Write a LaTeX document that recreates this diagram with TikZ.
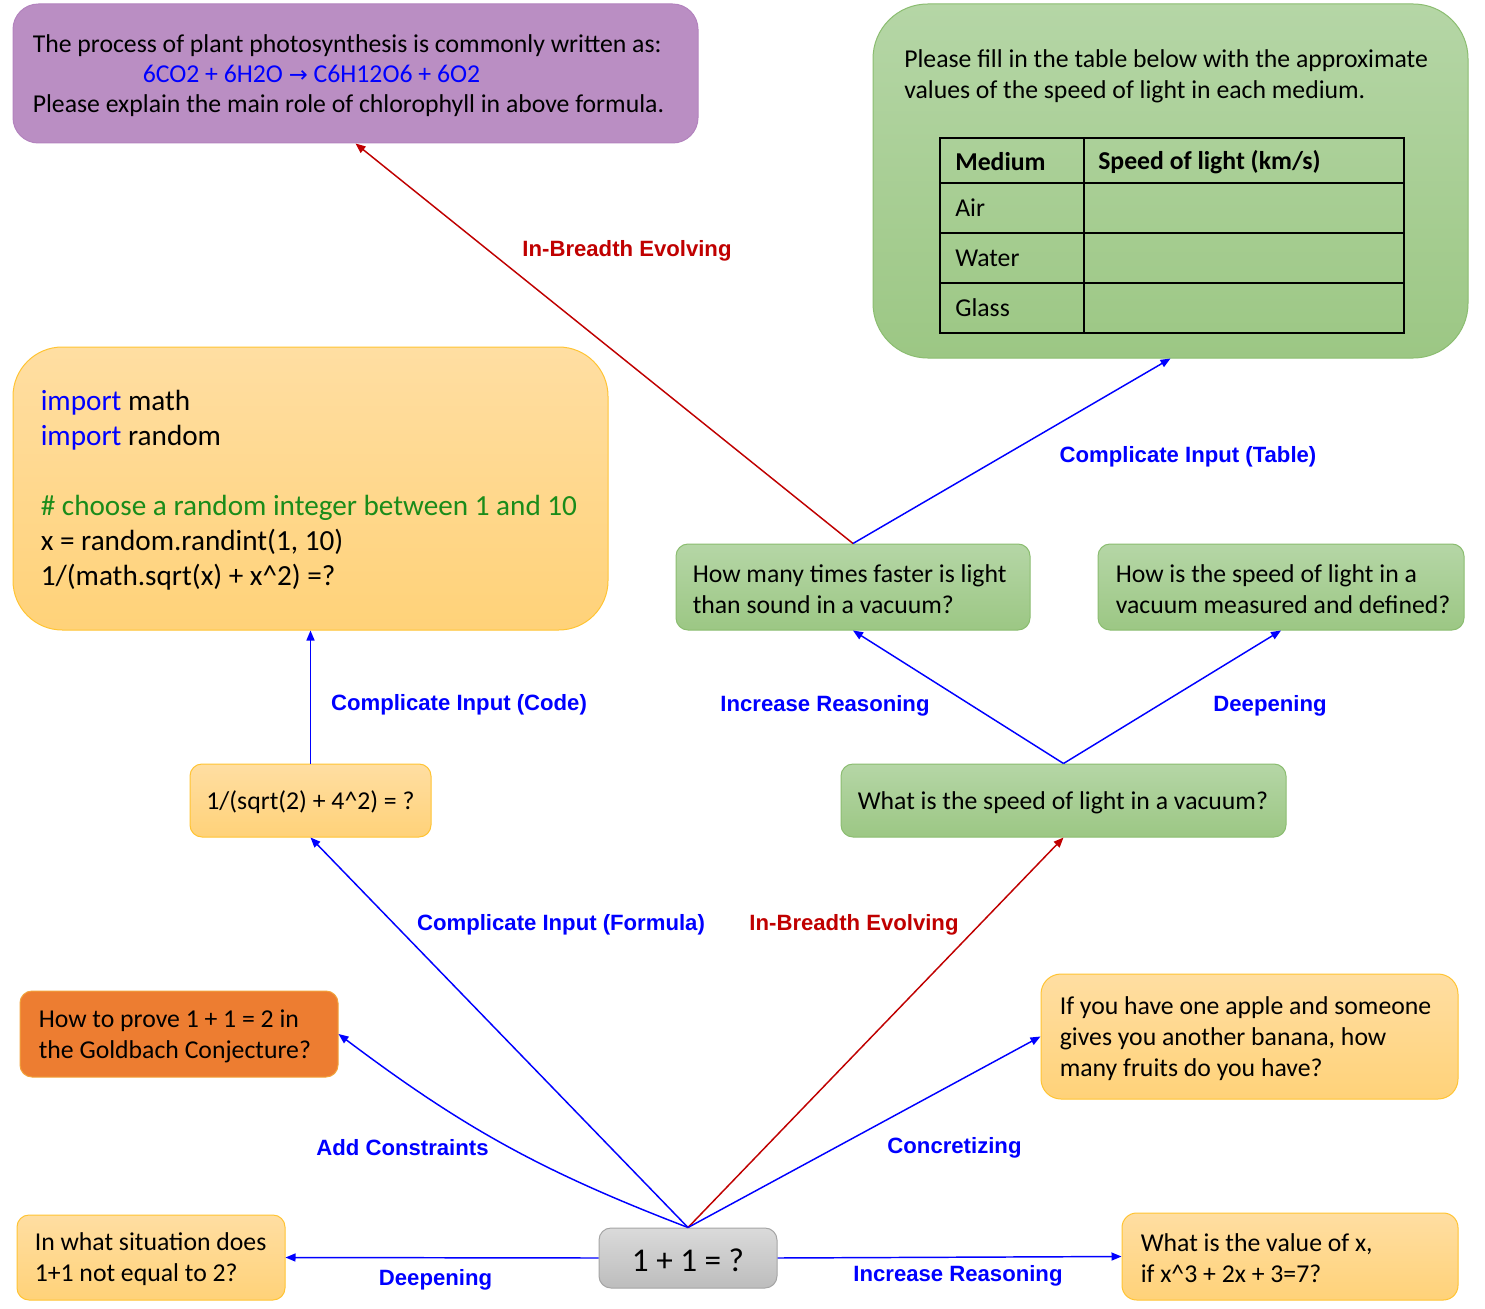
\documentclass[tikz,border=0pt]{standalone}
\usepackage{fontspec}
\setmainfont{Carlito}
\newfontfamily\labfont{Liberation Sans}
\newfontfamily\arrowfont{DejaVu Sans}
\usetikzlibrary{arrows.meta,fit}
\definecolor{purpF}{HTML}{BA8EC3}
\definecolor{purpD}{HTML}{B383BE}
\definecolor{grnT}{HTML}{B5D6A6}
\definecolor{grnB}{HTML}{9CC784}
\definecolor{grnD}{HTML}{8BBD70}
\definecolor{orT}{HTML}{FFDEA2}
\definecolor{orB}{HTML}{FFD279}
\definecolor{orD}{HTML}{FFC433}
\definecolor{dkor}{HTML}{ED7D31}
\definecolor{dkorD}{HTML}{F2A33C}
\definecolor{gryT}{HTML}{DADADA}
\definecolor{gryB}{HTML}{BDBDBD}
\definecolor{gryD}{HTML}{A5A5A5}
\definecolor{arrblue}{HTML}{0000FF}
\definecolor{arrred}{HTML}{C00000}
\definecolor{kw}{HTML}{0000FF}
\definecolor{cm}{HTML}{1A8C1A}
\begin{document}
\begin{tikzpicture}[x=0.75pt,y=-0.75pt,
  box/.style={inner sep=0pt, line width=0.75pt, rounded corners=9pt},
  greenbox/.style={box, draw=grnD, top color=grnT, bottom color=grnB},
  orbox/.style={box, draw=orD, top color=orT, bottom color=orB},
  txt/.style={font=\fontsize{19.3}{23.25}\selectfont, align=left, inner sep=0pt, anchor=west, yshift=-1.5pt},
  ctxt/.style={font=\fontsize{19.3}{23.25}\selectfont, inner sep=0pt, yshift=-1.5pt},
  lab/.style={font=\labfont\bfseries\fontsize{16.6}{19}\selectfont, inner sep=0pt, yshift=-2.25pt},
  conn/.style={line width=1.1pt, -{Triangle[length=7.5pt,width=6pt]}},
  bl/.style={conn, draw=arrblue},
  rd/.style={conn, draw=arrred},
  tline/.style={line width=1.5pt, draw=black},
  bluelab/.style={lab, text=arrblue},
  redlab/.style={lab, text=arrred}]
\fill[white] (0,0) rectangle (1485,1309);
\useasboundingbox (0,0) rectangle (1485,1309);

% ---------- boxes ----------
\node[box, rounded corners=19pt, fill=purpF, draw=purpD, fit={(13,4) (698,143)}] (purple) {};
\node[greenbox, rounded corners=41pt, fit={(873,4) (1468,358)}] (tablebox) {};
\node[orbox, rounded corners=37pt, fit={(13,347) (608,630)}] (code) {};
\node[greenbox, fit={(676,544) (1030,630)}] (howmany) {};
\node[greenbox, fit={(1098,544) (1464,630)}] (howis) {};
\node[greenbox, fit={(841,764) (1286,837)}] (speed) {};
\node[orbox, fit={(190,764) (431,837)}] (formula) {};
\node[box, fill=dkor, draw=dkorD, fit={(20,991) (338,1077)}] (gold) {};
\node[orbox, fit={(17,1215) (285,1300)}] (inwhat) {};
\node[box, draw=gryD, top color=gryT, bottom color=gryB, fit={(599,1228) (777,1288)}] (one) {};
\node[orbox, rounded corners=15pt, fit={(1041,974) (1458,1099)}] (apple) {};
\node[orbox, rounded corners=11pt, fit={(1122,1213) (1458,1300)}] (value) {};

% ---------- texts ----------
\node[txt] (purpleT) at ([xshift=15pt]purple.west) {The process of plant photosynthesis is commonly written as:\\[-0.75pt]
\hspace*{82.5pt}{\color{kw}6CO2 + 6H2O {\arrowfont\fontsize{17}{20}\selectfont →} C6H12O6 + 6O2}\\[-0.75pt]
Please explain the main role of chlorophyll in above formula.};

\node[txt] (tableT) at (904,74.5) {Please fill in the table below with the approximate\\values of the speed of light in each medium.};

\node[txt, font=\fontsize{21.9}{26.25}\selectfont] (codeT) at ([xshift=21pt]code.west) {{\color{kw}import} math\\
{\color{kw}import} random\\[26.25pt]
{\color{cm}\# choose a random integer between 1 and 10}\\
x = random.randint(1, 10)\\
1/(math.sqrt(x) + x\textasciicircum 2) =?};

\node[ctxt] (formulaT) at (formula.center) {1/(sqrt(2) + 4\textasciicircum 2) = ?};
\node[ctxt, font=\fontsize{24.9}{28}\selectfont] (oneT) at (one.center) {1 + 1 = ?};
\node[txt] (howmanyT) at ([xshift=12.75pt]howmany.west) {How many times faster is light\\than sound in a vacuum?};
\node[txt] (howisT) at ([xshift=13.5pt]howis.west) {How is the speed of light in a\\vacuum measured and defined?};
\node[txt] (speedT) at ([xshift=12.75pt]speed.west) {What is the speed of light in a vacuum?};
\node[txt] (goldT) at ([xshift=14.25pt]gold.west) {How to prove 1 + 1 = 2 in\\the Goldbach Conjecture?};
\node[txt] (inwhatT) at ([xshift=13.5pt]inwhat.west) {In what situation does\\1+1 not equal to 2?};
\node[txt] (appleT) at ([xshift=14.25pt]apple.west) {If you have one apple and someone\\gives you another banana, how\\many fruits do you have?};
\node[txt] (valueT) at ([xshift=14.25pt]value.west) {What is the value of x,\\if x\textasciicircum 3 + 2x + 3=7?};

% ---------- table ----------
\draw[tline] (940,138) rectangle (1404,333);
\draw[tline] (1084,138) -- (1084,333);
\draw[tline] (940,183) -- (1404,183);
\draw[tline] (940,233) -- (1404,233);
\draw[tline] (940,283) -- (1404,283);
\node[txt, font=\bfseries\fontsize{19.3}{23.25}\selectfont] (thMed) at (955,160) {Medium};
\node[txt, font=\bfseries\fontsize{19.3}{23.25}\selectfont] (thSpd) at (1098,160) {Speed of light (km/s)};
\node[txt] (tdAir) at (955,206) {Air};
\node[txt] (tdWater) at (955,256) {Water};
\node[txt] (tdGlass) at (955,306) {Glass};

% ---------- connectors ----------
\draw[bl] (one.north) to[bend left=8] (gold.east);
\draw[bl] (one.north) -- (formula.south);
\draw[rd] (one.north) -- (speed.south);
\draw[bl] (one.north) -- (apple.west);
\draw[bl] (one.west) -- (inwhat.east);
\draw[bl] (one.east) -- (value.west);
\draw[bl] (formula.north) -- (code.south);
\draw[bl] (speed.north) -- (howmany.south);
\draw[bl] (speed.north) -- (howis.south);
\draw[rd] (howmany.north) -- (purple.south);
\draw[bl] (howmany.north) -- (tablebox.south);

% ---------- labels ----------
\node[redlab] (l1) at (627,248) {In-Breadth Evolving};
\node[bluelab] (l2) at (1188,454) {Complicate Input (Table)};
\node[bluelab] (l3) at (459,702) {Complicate Input (Code)};
\node[bluelab] (l4) at (825,703) {Increase Reasoning};
\node[bluelab] (l5) at (1270,703) {Deepening};
\node[bluelab] (l6) at (561,922) {Complicate Input (Formula)};
\node[redlab] (l7) at (854,922) {In-Breadth Evolving};
\node[bluelab] (l8) at (402.5,1145) {Add Constraints};
\node[bluelab] (l9) at (954.5,1145) {Concretizing};
\node[bluelab] (l10) at (435.5,1277) {Deepening};
\node[bluelab] (l11) at (958,1273) {Increase Reasoning};
\end{tikzpicture}
\end{document}
